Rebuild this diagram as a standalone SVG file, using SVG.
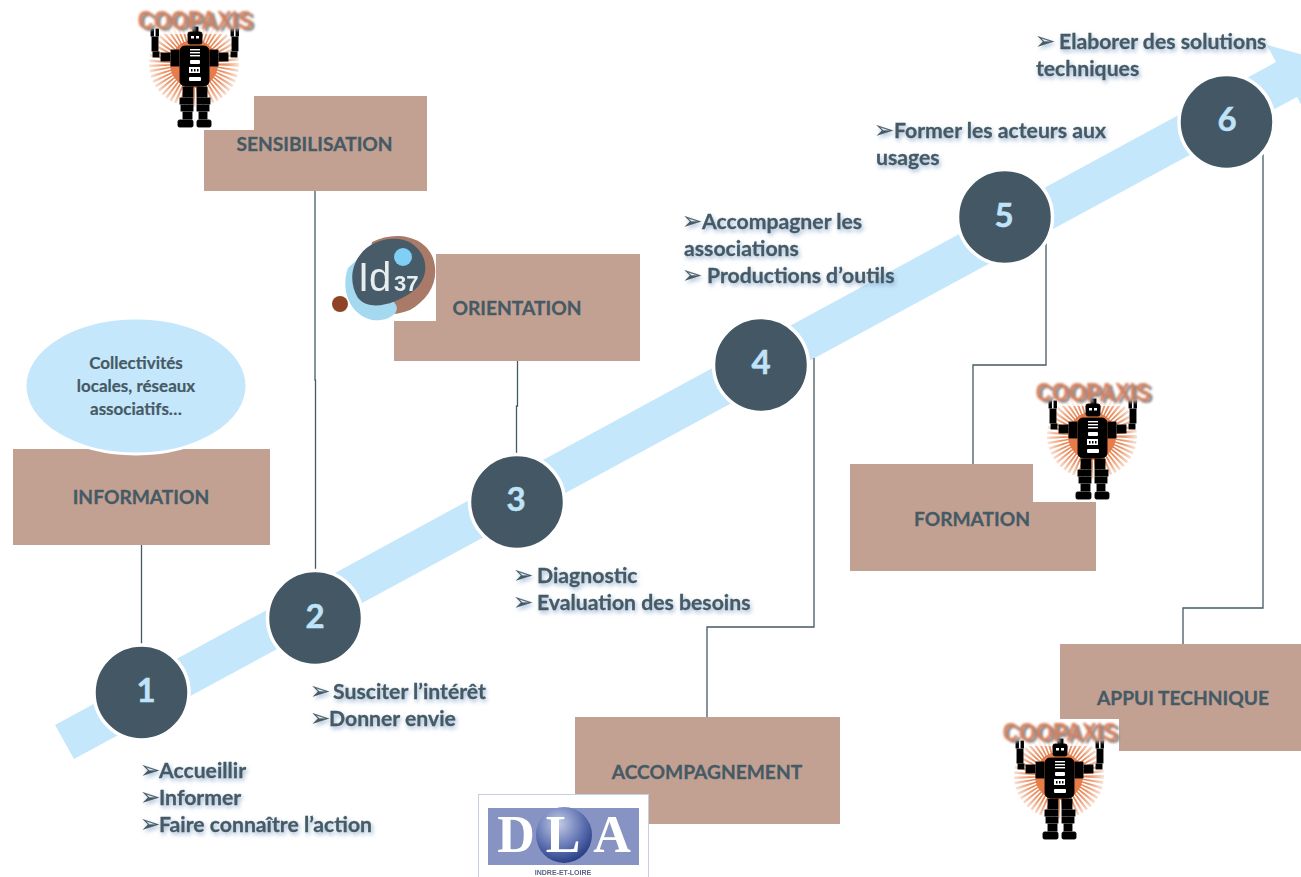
<svg xmlns="http://www.w3.org/2000/svg" xmlns:xlink="http://www.w3.org/1999/xlink" width="1301" height="877" viewBox="0 0 1301 877">
<style>
.box{fill:#c2a193}
.lbl{font:700 19.2px Lato,"Liberation Sans",sans-serif;fill:#455a64;text-anchor:middle;stroke:#455a64;stroke-width:.3}
.step{fill:#435864;stroke:#fff;stroke-width:3.5}
.num{font:700 33px Lato,"Liberation Sans",sans-serif;fill:#bfe3f8;text-anchor:middle;stroke:#bfe3f8;stroke-width:.5}
.note{font:700 21.200px Lato,"Liberation Sans",sans-serif;fill:#455a64;stroke:#455a64;stroke-width:.3;filter:url(#sh)}
.bu{font-family:"DejaVu Sans",sans-serif;font-weight:400;font-size:24px;stroke-width:.2}
.cn{fill:none;stroke:#455a64;stroke-width:1.3}
</style>
<defs>
<filter id="sh" x="-10%" y="-30%" width="125%" height="170%"><feDropShadow dx="1.5" dy="2.5" stdDeviation="2" flood-color="#7f9fc4" flood-opacity=".75"/></filter>
<filter id="soft" x="-5%" y="-5%" width="110%" height="110%"><feGaussianBlur stdDeviation=".5"/></filter>
<filter id="softer" x="-5%" y="-20%" width="110%" height="140%"><feGaussianBlur stdDeviation=".9"/></filter>
<radialGradient id="sun" gradientUnits="userSpaceOnUse" cx="194" cy="64" r="46"><stop offset=".3" stop-color="#e0703a"/><stop offset=".65" stop-color="#ea8f60"/><stop offset="1" stop-color="#fbeadf"/></radialGradient>
<radialGradient id="ball" cx=".4" cy=".3" r=".75"><stop offset="0" stop-color="#c3cce6"/><stop offset=".6" stop-color="#5d70b0"/><stop offset="1" stop-color="#22387f"/></radialGradient>
<g id="robot">
<rect x="135" y="7" width="119" height="123" fill="#fff"/>
<g filter="url(#soft)">
<ellipse cx="194" cy="64" rx="24" ry="22" fill="none" stroke="url(#sun)" stroke-width="42" stroke-dasharray="1.4 1.3"/>
<circle cx="194" cy="64" r="24" fill="#e57b48"/>
<rect x="135" y="7" width="119" height="27" fill="#fff" fill-opacity=".75"/>
<g stroke="#000" stroke-width=".9" fill="#000">
<rect x="193" y="27" width="5" height="5"/>
<rect x="188" y="32" width="14" height="12" rx="2"/>
<rect x="180" y="46" width="29" height="40" rx="5"/>
<rect x="171" y="50" width="8" height="16"/><rect x="210" y="50" width="8" height="16"/>
<rect x="161" y="53" width="9" height="8"/><rect x="219" y="53" width="9" height="8"/>
<rect x="153" y="52" width="6" height="5"/><rect x="231" y="52" width="6" height="5"/>
<rect x="152" y="37" width="6" height="14"/><rect x="232" y="37" width="6" height="14"/>
<rect x="151" y="29" width="2.500" height="7"/><rect x="156" y="29" width="2.500" height="7"/>
<rect x="231" y="29" width="2.500" height="7"/><rect x="236" y="29" width="2.500" height="7"/>
<rect x="183" y="87" width="10" height="10"/><rect x="197" y="87" width="10" height="10"/>
<rect x="180" y="98" width="13" height="6"/><rect x="197" y="98" width="13" height="6"/>
<rect x="181" y="105" width="12" height="6"/><rect x="197" y="105" width="12" height="6"/>
<rect x="183" y="112" width="9" height="7"/><rect x="199" y="112" width="8" height="7"/>
<rect x="178" y="120" width="15" height="7" rx="1.5"/><rect x="197" y="120" width="14" height="7" rx="1.5"/>
</g>
<g fill="#fff">
<rect x="191" y="36" width="3" height="2.5"/><rect x="196" y="36" width="3" height="2.5"/>
<rect x="190" y="49" width="10" height="1.4"/><rect x="190" y="52" width="10" height="1.4"/><rect x="190" y="55" width="10" height="1.4"/>
<rect x="190" y="60" width="10" height="4" rx="1"/><rect x="189" y="67" width="11" height="6"/><rect x="189" y="77" width="12" height="4" rx="1"/>
</g>
<g fill="#000"><rect x="191" y="69" width="1.5" height="2.5"/><rect x="194" y="69" width="1.5" height="2.5"/><rect x="197" y="69" width="1.5" height="2.5"/></g>
</g>
<g filter="url(#softer)">
<text x="198" y="31" font-family="Liberation Sans,sans-serif" font-weight="700" font-size="26" textLength="115" lengthAdjust="spacingAndGlyphs" text-anchor="middle" fill="#8c8c8c">COOPAXIS</text>
<text x="195" y="29" font-family="Liberation Sans,sans-serif" font-weight="700" font-size="26" textLength="115" lengthAdjust="spacingAndGlyphs" text-anchor="middle" fill="#d8805a">COOPAXIS</text>
</g>
</g>
</defs>
<rect width="1301" height="877" fill="#fff"/>
<polygon id="arrow" points="55,725 1276,62 1267,45 1322,60 1306,114 1297,97 74,759" fill="#c5e7fb"/>
<g id="connectors">
<path class="cn" d="M141.500 545V647"/>
<path class="cn" d="M315 191V380H315.500V572"/>
<path class="cn" d="M517.500 361V406H516.500V456"/>
<path class="cn" d="M814 358V627H707V717"/>
<path class="cn" d="M1052 216H1046V365H973V464"/>
<path class="cn" d="M1263 150V608H1183V644"/>
</g>
<g id="node-information">
<rect class="box" x="13" y="449" width="257" height="96"/>
<text class="lbl" x="141" y="504">INFORMATION</text>
</g>
<g id="node-collectivites">
<ellipse cx="136" cy="386" rx="111" ry="68" fill="#c5e7fb" stroke="#fff" stroke-width="3"/>
<g font-family="Lato,'Liberation Sans',sans-serif" font-weight="700" font-size="17" fill="#455a64" stroke="#455a64" stroke-width=".2" text-anchor="middle">
<text x="136" y="369">Collectivités</text><text x="136" y="392">locales, réseaux</text><text x="136" y="415">associatifs…</text></g>
</g>
<g id="node-sensibilisation">
<rect class="box" x="204" y="96" width="223" height="95"/>
<text class="lbl" x="314.500" y="151">SENSIBILISATION</text>
<use xlink:href="#robot" href="#robot"/>
</g>
<g id="node-orientation">
<rect class="box" x="394" y="254" width="246" height="107"/>
<text class="lbl" x="517" y="315">ORIENTATION</text>
<rect x="328" y="231" width="108" height="90" fill="#fff"/>
<g filter="url(#soft)">
<path d="M372 242C395 230 425 236 433 258C440 280 430 298 410 310C390 318 365 315 360 305Z" fill="#a97a68"/>
<path d="M348 268C340 290 350 315 372 320C390 322 400 312 396 305L362 255Z" fill="#a5d9f0"/>
<path d="M360 255C372 238 402 233 416 247C430 260 428 280 412 292C395 304 370 312 358 298C350 285 350 268 360 255Z" fill="#465c68"/>
<circle cx="403" cy="257" r="9" fill="#7fd0f4"/>
<circle cx="340" cy="304" r="8" fill="#8e4327"/>
<text x="358" y="291" font-family="Liberation Sans,sans-serif" font-size="40" fill="#e8eef0">Id</text>
<text x="394" y="291" font-family="Liberation Sans,sans-serif" font-weight="700" font-size="22" fill="#e8eef0">37</text>
</g>
</g>
<g id="node-accompagnement">
<rect class="box" x="575" y="717" width="265" height="107"/>
<text class="lbl" x="707" y="779">ACCOMPAGNEMENT</text>
<rect x="478.500" y="794.500" width="170" height="83" fill="#fff" stroke="#c6d0de"/>
<g filter="url(#soft)">
<rect x="488" y="808" width="151" height="57" fill="#8793c3"/>
<circle cx="564" cy="835" r="28" fill="url(#ball)"/>
<g font-family="Liberation Serif,serif" font-weight="700" font-size="52" fill="#fff" text-anchor="middle">
<text x="516" y="852">D</text><text x="563" y="852">L</text><text x="612" y="852">A</text></g>
<text x="563" y="875" font-family="Liberation Sans,sans-serif" font-weight="700" font-size="7" fill="#5a6580" text-anchor="middle">INDRE-ET-LOIRE</text>
</g>
</g>
<g id="node-formation">
<rect class="box" x="850" y="464" width="246" height="107"/>
<text class="lbl" x="972" y="526">FORMATION</text>
<use xlink:href="#robot" href="#robot" transform="translate(898 372)"/>
</g>
<g id="node-appui">
<rect class="box" x="1060" y="644" width="241" height="107"/>
<text class="lbl" x="1183" y="705">APPUI TECHNIQUE</text>
<use xlink:href="#robot" href="#robot" transform="translate(865 712)"/>
</g>
<g id="step-1"><circle class="step" cx="141.500" cy="692.500" r="47.500"/><text class="num" x="146" y="702">1</text></g>
<g id="step-2"><circle class="step" cx="315" cy="618" r="47.500"/><text class="num" x="315" y="628">2</text></g>
<g id="step-3"><circle class="step" cx="517" cy="502" r="47.500"/><text class="num" x="516" y="511">3</text></g>
<g id="step-4"><circle class="step" cx="761" cy="365" r="47.500"/><text class="num" x="761" y="374">4</text></g>
<g id="step-5"><circle class="step" cx="1005" cy="217" r="47.500"/><text class="num" x="1004" y="227">5</text></g>
<g id="step-6"><circle class="step" cx="1226.500" cy="122" r="47.500"/><text class="num" x="1227" y="131">6</text></g>
<g id="notes">
<text class="note" x="140" y="778"><tspan class="bu">➢</tspan><tspan x="159">Accueillir</tspan></text>
<text class="note" x="140" y="805"><tspan class="bu">➢</tspan><tspan x="159">Informer</tspan></text>
<text class="note" x="140" y="832"><tspan class="bu">➢</tspan><tspan x="159">Faire connaître l’action</tspan></text>
<text class="note" x="310" y="699"><tspan class="bu">➢</tspan><tspan x="333">Susciter l’intérêt</tspan></text>
<text class="note" x="310" y="726"><tspan class="bu">➢</tspan><tspan x="329">Donner envie</tspan></text>
<text class="note" x="513" y="583"><tspan class="bu">➢</tspan><tspan x="537">Diagnostic</tspan></text>
<text class="note" x="513" y="610"><tspan class="bu">➢</tspan><tspan x="537">Evaluation des besoins</tspan></text>
<text class="note" x="682" y="229"><tspan class="bu">➢</tspan><tspan x="702">Accompagner les</tspan></text>
<text class="note" x="684" y="256">associations</text>
<text class="note" x="682" y="283"><tspan class="bu">➢</tspan><tspan x="707">Productions d’outils</tspan></text>
<text class="note" x="874" y="138"><tspan class="bu">➢</tspan><tspan x="894">Former les acteurs aux</tspan></text>
<text class="note" x="876" y="165">usages</text>
<text class="note" x="1035" y="49"><tspan class="bu">➢</tspan><tspan x="1059">Elaborer des solutions</tspan></text>
<text class="note" x="1036" y="76">techniques</text>
</g>
</svg>
